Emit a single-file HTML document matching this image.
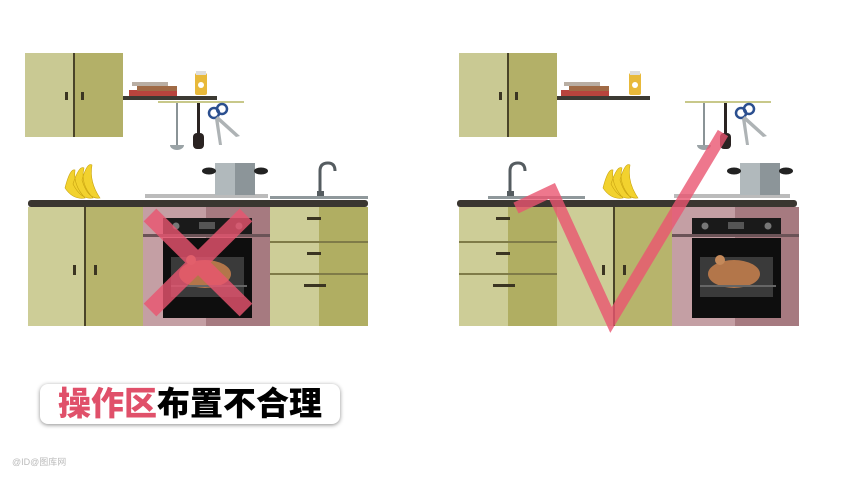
<!DOCTYPE html>
<html><head><meta charset="utf-8"><style>
body{margin:0;width:850px;height:478px;background:#fff;overflow:hidden;position:relative;font-family:"Liberation Sans","Noto Sans CJK SC",sans-serif}
.lbl{position:absolute;left:40px;top:384px;width:300px;height:40px;border-radius:8px;background:#fff;box-shadow:0 1px 4px rgba(0,0,0,.45);font-size:33px;font-weight:900;line-height:40px;text-align:center;letter-spacing:0px}
.wm{position:absolute;left:12px;top:455px;font-size:9px;color:#bbb}
</style></head><body>
<svg width="850" height="478" style="position:absolute;left:0;top:0">
<defs>
<g id="books"><rect x="0" y="8" width="48" height="6" fill="#b8443d"/><rect x="8" y="4" width="40" height="5" fill="#a06a45"/><rect x="3" y="0" width="36" height="4" fill="#b9aea3"/></g>
<g id="jar"><rect x="0" y="2" width="12" height="22" rx="2" fill="#e8b93a"/><rect x="1" y="0" width="10" height="4" fill="#ddd"/><circle cx="6" cy="14" r="3" fill="#fff"/></g>
<g id="tools"><rect x="0" y="0" width="86" height="2" fill="#c8c88a"/><rect x="18" y="2" width="2" height="42" fill="#8a9396"/><path d="M12 44 h14 a7 5 0 0 1 -14 0z" fill="#9aa3a6"/><rect x="39" y="2" width="3" height="32" fill="#2a2322"/><rect x="35" y="32" width="11" height="16" rx="4" fill="#2a2322"/><circle cx="56" cy="12" r="5" fill="none" stroke="#2b4f8f" stroke-width="2.5"/><circle cx="64" cy="8" r="5" fill="none" stroke="#2b4f8f" stroke-width="2.5"/><path d="M60 15 L82 35 L78 36 L58 18z M60 15 L64 44 L61 44 L57 18z" fill="#aeb3b5"/></g>
<g id="banana"><path d="M0 18 Q5 -2 10 0 Q8 15 20 28 Q8 30 0 18z M8 14 Q14 -5 19 -2 Q15 14 28 28 Q16 30 8 14z M17 10 Q22 -8 27 -5 Q24 12 35 28 Q23 30 17 10z" fill="#f2d22e" stroke="#c9a411" stroke-width=".6"/></g>
<g id="pot"><rect x="10" y="0" width="40" height="32" fill="#8c9599"/><rect x="10" y="0" width="20" height="32" fill="#b1b9bc"/><ellipse cx="4" cy="8" rx="7" ry="3.5" fill="#222"/><ellipse cx="56" cy="8" rx="7" ry="3.5" fill="#222"/></g>
<g id="faucet"><path d="M0 35 V8 Q0 0 8 0 Q15 0 15 8" fill="none" stroke="#555c60" stroke-width="3"/><rect x="-3" y="28" width="7" height="7" fill="#555c60"/></g>
<g id="oven"><rect x="0" y="0" width="63" height="119" fill="#c49fa4"/><rect x="63" y="0" width="64" height="119" fill="#a67a80"/><rect x="20" y="11" width="89" height="16" fill="#1a1a1a"/><circle cx="33" cy="19" r="3.5" fill="#777"/><circle cx="96" cy="19" r="3.5" fill="#777"/><rect x="56" y="15" width="16" height="7" fill="#555"/><rect x="0" y="27" width="127" height="3" fill="#6b5357"/><rect x="20" y="31" width="89" height="80" fill="#0e0e0e"/><rect x="28" y="50" width="73" height="40" fill="#3a3a3a"/><ellipse cx="62" cy="67" rx="26" ry="14" fill="#b3764a"/><circle cx="48" cy="53" r="5" fill="#c4895a"/><rect x="28" y="78" width="76" height="2" fill="#666"/></g>
<g id="drawers"><rect x="0" y="0" width="49" height="119" fill="#cdcd97"/><rect x="49" y="0" width="49" height="119" fill="#b0ae62"/><rect x="0" y="34" width="98" height="2" fill="#7f7b48"/><rect x="0" y="66" width="98" height="2" fill="#7f7b48"/><rect x="37" y="10" width="14" height="3" fill="#3b3522"/><rect x="37" y="45" width="14" height="3" fill="#3b3522"/><rect x="34" y="77" width="22" height="3" fill="#3b3522"/></g>
<g id="doors"><rect x="0" y="0" width="57" height="119" fill="#cdcd97"/><rect x="57" y="0" width="58" height="119" fill="#b7b46c"/><rect x="56" y="0" width="2" height="119" fill="#4a4428"/><rect x="45" y="58" width="3" height="10" fill="#3b3522"/><rect x="66" y="58" width="3" height="10" fill="#3b3522"/></g>
<g id="upper"><rect x="0" y="0" width="49" height="84" fill="#c9c993"/><rect x="49" y="0" width="49" height="84" fill="#b3b068"/><rect x="48" y="0" width="2" height="84" fill="#4a4428"/><rect x="40" y="39" width="3" height="8" fill="#3b3522"/><rect x="56" y="39" width="3" height="8" fill="#3b3522"/></g>
</defs>
<use href="#upper" x="25" y="53"/>
<rect x="123" y="96" width="94" height="4" fill="#3c3a33"/>
<use href="#books" x="129" y="82"/><use href="#jar" x="195" y="71"/>
<use href="#tools" x="158" y="101"/>
<use href="#banana" x="65" y="170"/>
<rect x="145" y="194" width="123" height="4" fill="#bbb"/>
<use href="#pot" x="205" y="163"/>
<use href="#faucet" x="320" y="163"/>
<rect x="270" y="196" width="98" height="3" fill="#8f989b"/>
<rect x="28" y="200" width="340" height="7" rx="3" fill="#3a3630"/>
<use href="#doors" x="28" y="207"/>
<use href="#oven" x="143" y="207"/>
<use href="#drawers" x="270" y="207"/>
<g stroke="#ea5570" stroke-width="18" opacity=".8"><line x1="150" y1="215" x2="246" y2="310"/><line x1="246" y1="215" x2="150" y2="310"/></g>
<use href="#upper" x="459" y="53"/>
<rect x="557" y="96" width="93" height="4" fill="#3c3a33"/>
<use href="#books" x="561" y="82"/><use href="#jar" x="629" y="71"/>
<use href="#tools" x="685" y="101"/>
<use href="#faucet" x="510" y="163"/>
<rect x="488" y="196" width="97" height="3" fill="#8f989b"/>
<use href="#banana" x="603" y="170"/>
<rect x="674" y="194" width="116" height="4" fill="#bbb"/>
<use href="#pot" x="730" y="163"/>
<rect x="457" y="200" width="340" height="7" rx="3" fill="#3a3630"/>
<use href="#drawers" x="459" y="207"/>
<use href="#doors" x="557" y="207"/>
<use href="#oven" x="672" y="207"/>
<polyline points="516,208 552,191 611,320 723,133" fill="none" stroke="#ea5570" stroke-width="12" opacity=".8" stroke-linejoin="miter"/>
</svg>
<div class="lbl"><span style="color:#e0506a">操作区</span><span style="color:#000">布置不合理</span></div>
<div class="wm">@ID@图库网</div>
</body></html>
